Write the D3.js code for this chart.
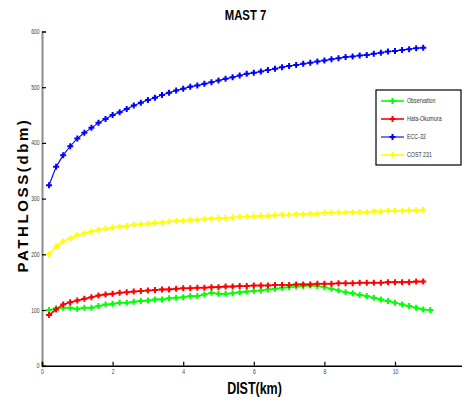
<!DOCTYPE html>
<html>
<head>
<meta charset="utf-8">
<script src="https://cdn.jsdelivr.net/npm/d3@7"></script>
<style>
  body { margin: 0; background: #fff; }
  svg { display: block; }
  text { font-family: "Liberation Sans", Arial, sans-serif; }
</style>
</head>
<body>
<svg id="chart" width="462" height="403"></svg>
<script>
// distancias (km)
var distModel = [0.2, 0.4, 0.6, 0.8, 1.0, 1.2, 1.4, 1.6, 1.8, 2.0, 2.2, 2.4, 2.6, 2.8, 3.0, 3.2, 3.4, 3.6,
  3.8, 4.0, 4.2, 4.4, 4.6, 4.8, 5.0, 5.2, 5.4, 5.6, 5.8, 6.0, 6.2, 6.4, 6.6, 6.8, 7.0, 7.2, 7.4, 7.6,
  7.8, 8.0, 8.2, 8.4, 8.6, 8.8, 9.0, 9.2, 9.4, 9.6, 9.8, 10.0, 10.2, 10.4, 10.6, 10.8];
var distObs = [0.2, 0.4, 0.6, 0.8, 1.0, 1.2, 1.4, 1.6, 1.8, 2.0, 2.2, 2.4, 2.6, 2.8, 3.0, 3.2, 3.4, 3.6,
  3.8, 4.0, 4.2, 4.4, 4.6, 4.8, 5.0, 5.2, 5.4, 5.6, 5.8, 6.0, 6.2, 6.4, 6.6, 6.8, 7.0, 7.2, 7.4, 7.6,
  7.8, 8.0, 8.2, 8.4, 8.6, 8.8, 9.0, 9.2, 9.4, 9.6, 9.8, 10.0, 10.2, 10.4, 10.6, 10.8, 11.0];

// pathloss (dbm)
var observation = [100, 103, 104, 104, 102, 104, 104, 107, 110, 111, 113, 113, 115, 116, 117, 119, 119, 121,
  122, 123, 125, 125, 128, 131, 129, 129, 130, 132, 133, 134, 135, 137, 138, 140, 141, 142, 143, 144,
  143, 141, 138, 135, 132, 130, 127, 125, 122, 119, 116, 113, 110, 107, 104, 101, 100];
var hataOkumura = [91, 101, 110, 114, 117, 120, 123, 126, 128, 129, 131, 132, 133, 134, 135, 136, 137, 137,
  138, 139, 139, 140, 140, 141, 141, 142, 142, 143, 143, 144, 144, 144, 145, 145, 145, 146, 146, 146,
  147, 147, 147, 148, 148, 148, 149, 149, 149, 149, 150, 150, 150, 150, 151, 151];
var ecc33 = [324, 357, 378, 394, 408, 418, 427, 436, 443, 450, 455, 461, 467, 472, 477, 481, 486, 490,
  494, 497, 501, 503, 506, 509, 512, 515, 518, 521, 524, 526, 528, 531, 533, 536, 538, 540, 542, 544,
  546, 548, 550, 552, 554, 555, 557, 558, 560, 562, 564, 565, 567, 568, 570, 571];
var cost231 = [200, 214, 223, 229, 234, 238, 241, 244, 246, 248, 250, 251, 253, 254, 255, 256, 257, 259,
  260, 260, 262, 262, 263, 264, 265, 265, 266, 267, 268, 268, 269, 269, 270, 271, 271, 272, 272, 273,
  273, 274, 274, 275, 275, 276, 276, 276, 277, 277, 278, 278, 278, 279, 279, 280];

var xTicks = [0, 2, 4, 6, 8, 10];
var yTicks = [0, 100, 200, 300, 400, 500, 600];

var series = [
  { name: "Observation", dist: distObs, values: observation, color: "#00ff00", width: 1.6 },
  { name: "Hata-Okumura", dist: distModel, values: hataOkumura, color: "#ff0000", width: 1.6 },
  { name: "ECC-33", dist: distModel, values: ecc33, color: "#0000ff", width: 1.1 },
  { name: "COST 231", dist: distModel, values: cost231, color: "#ffff00", width: 1.6 }
];

var svg = d3.select("#chart");

var x = d3.scaleLinear().domain([0, 12]).range([42, 465.6]);
var y = d3.scaleLinear().domain([0, 600]).range([365.7, 31.5]);

// texto estrecho (no hay Arial Narrow instalada)
var squeeze = 0.78;
function narrowText(sel) {
  sel.each(function () {
    var t = d3.select(this);
    var tx = +t.attr("x") || 0, ty = +t.attr("y") || 0;
    t.attr("transform", "translate(" + tx + "," + ty + ") scale(" + squeeze + ",1)")
      .attr("x", 0).attr("y", 0);
  });
}

// eje Y (gris)
var yAxis = svg.append("g")
  .attr("transform", "translate(" + x(0) + ",0)")
  .call(d3.axisLeft(y).tickValues(yTicks).tickSize(-4).tickPadding(3));
yAxis.select(".domain").attr("stroke", "#8c8c8c").attr("stroke-width", 2);
yAxis.selectAll(".tick line").attr("stroke", "#000").attr("stroke-width", 1.2);
yAxis.selectAll(".tick text").attr("font-size", 6.5).attr("fill", "#444")
  .attr("font-family", "Liberation Sans, Arial, sans-serif")
  .attr("transform", "scale(" + squeeze + ",1)");

// eje X (negro)
var xAxis = svg.append("g")
  .attr("transform", "translate(0," + y(0) + ")")
  .call(d3.axisBottom(x).tickValues(xTicks).tickSize(-4).tickPadding(4));
xAxis.select(".domain").attr("stroke", "#000").attr("stroke-width", 1.5);
xAxis.selectAll(".tick line").attr("stroke", "#000").attr("stroke-width", 1.2);
xAxis.selectAll(".tick text").attr("font-size", 6.5).attr("fill", "#444")
  .attr("font-family", "Liberation Sans, Arial, sans-serif")
  .attr("transform", "scale(" + squeeze + ",1)");

var line = d3.line()
  .x(function (d) { return x(d[0]); })
  .y(function (d) { return y(d[1]); });

var marker = "M-3,0H3M0,-3V3";

series.forEach(function (s) {
  var pts = s.dist.map(function (d, i) { return [d, s.values[i]]; });
  var g = svg.append("g");
  g.append("path")
    .attr("d", line(pts))
    .attr("fill", "none")
    .attr("stroke", s.color)
    .attr("stroke-width", s.width);
  g.selectAll("path.m")
    .data(pts)
    .enter().append("path")
    .attr("class", "m")
    .attr("d", marker)
    .attr("transform", function (d) { return "translate(" + x(d[0]) + "," + y(d[1]) + ")"; })
    .attr("fill", "none")
    .attr("stroke", s.color)
    .attr("stroke-width", 2);
});

// leyenda
var legend = svg.append("g");
legend.append("rect")
  .attr("x", 376).attr("y", 90)
  .attr("width", 85).attr("height", 75)
  .attr("fill", "#fff")
  .attr("stroke", "#000")
  .attr("stroke-width", 1.2);

series.forEach(function (s, i) {
  var ly = 101 + i * 18;
  legend.append("line")
    .attr("x1", 381).attr("x2", 404)
    .attr("y1", ly).attr("y2", ly)
    .attr("stroke", s.color)
    .attr("stroke-width", s.width);
  legend.append("path")
    .attr("d", marker)
    .attr("transform", "translate(392.5," + ly + ")")
    .attr("stroke", s.color)
    .attr("stroke-width", 2);
  legend.append("text")
    .attr("x", 407).attr("y", ly + 2.3)
    .attr("font-size", 6.8)
    .attr("fill", "#333")
    .text(s.name)
    .call(narrowText);
});

// titulos
svg.append("text")
  .attr("x", 245.5).attr("y", 20)
  .attr("text-anchor", "middle")
  .attr("font-size", 14.5)
  .attr("font-weight", "bold")
  .text("MAST 7")
  .call(narrowText);

svg.append("text")
  .attr("x", 254.5).attr("y", 394)
  .attr("text-anchor", "middle")
  .attr("font-size", 16)
  .attr("font-weight", "bold")
  .text("DIST(km)")
  .call(narrowText);

svg.append("text")
  .attr("transform", "translate(28,195) rotate(-90)")
  .attr("text-anchor", "middle")
  .attr("font-size", 15)
  .attr("font-weight", "bold")
  .attr("letter-spacing", 2.6)
  .text("PATHLOSS(dbm)");
</script>
</body>
</html>
